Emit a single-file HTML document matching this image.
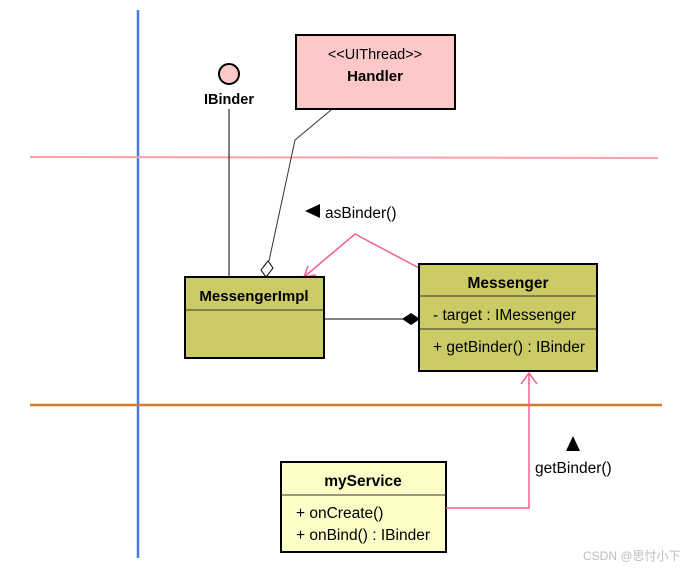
<!DOCTYPE html>
<html><head><style>
body{margin:0;background:#fff;}
svg text{font-family:"Liberation Sans","Noto Sans CJK SC",sans-serif;}
</style></head><body>
<svg width="687" height="570" xmlns="http://www.w3.org/2000/svg">
<line x1="138" y1="10" x2="138" y2="558" stroke="#4a78e8" stroke-width="2.5"/>
<line x1="30" y1="157" x2="658" y2="158" stroke="#f7a3a8" stroke-width="2"/>
<line x1="30" y1="405" x2="662" y2="405" stroke="#d97a2a" stroke-width="2.5"/>
<!-- IBinder -->
<circle cx="229" cy="74" r="10" fill="#fcc8c8" stroke="#000" stroke-width="2"/>
<text x="229" y="104" font-size="14.5" font-weight="bold" text-anchor="middle">IBinder</text>
<line x1="229" y1="109" x2="229" y2="277" stroke="#000"/>
<!-- Handler -->
<rect x="296" y="35" width="159" height="74" fill="#fcc8c8" stroke="#000" stroke-width="2"/>
<text x="375" y="59" font-size="14.5" text-anchor="middle">&lt;&lt;UIThread&gt;&gt;</text>
<text x="375" y="81" font-size="15" font-weight="bold" text-anchor="middle">Handler</text>
<polyline points="331,110 295,140 269,261" fill="none" stroke="#333"/>
<polygon points="268,261 273,268 266,277 261,270" fill="#fff" stroke="#000"/>
<!-- asBinder -->
<polygon points="305,211 320,204 320,218" fill="#000"/>
<text x="325" y="218" font-size="15.5">asBinder()</text>
<polyline points="419,268 355,234 304,277" fill="none" stroke="#f06090" stroke-width="1.5"/>
<polyline points="308,266 304,277 316,275" fill="none" stroke="#f06090" stroke-width="1.5"/>
<!-- MessengerImpl -->
<rect x="185" y="277" width="139" height="81" fill="#cbcb66" stroke="#000" stroke-width="2"/>
<line x1="185" y1="310" x2="324" y2="310" stroke="#333"/>
<text x="254" y="301" font-size="15" font-weight="bold" text-anchor="middle">MessengerImpl</text>
<line x1="324" y1="319" x2="403" y2="319" stroke="#000"/>
<polygon points="402,319 411,313 420,319 411,325" fill="#000"/>
<!-- Messenger -->
<rect x="419" y="264" width="178" height="107" fill="#cbcb66" stroke="#000" stroke-width="2"/>
<line x1="419" y1="296" x2="597" y2="296" stroke="#333"/>
<line x1="419" y1="329" x2="597" y2="329" stroke="#333"/>
<text x="508" y="288" font-size="15.5" font-weight="bold" text-anchor="middle">Messenger</text>
<text x="433" y="320" font-size="15.5">- target : IMessenger</text>
<text x="433" y="352" font-size="15.5">+ getBinder() : IBinder</text>
<!-- myService -->
<rect x="281" y="462" width="165" height="90" fill="#fdfdc8" stroke="#000" stroke-width="2"/>
<line x1="281" y1="495" x2="446" y2="495" stroke="#333"/>
<text x="363" y="486" font-size="15.5" font-weight="bold" text-anchor="middle">myService</text>
<text x="296" y="518" font-size="15.5">+ onCreate()</text>
<text x="296" y="540" font-size="15.5">+ onBind() : IBinder</text>
<polyline points="446,508 529,508 529,373" fill="none" stroke="#f06090" stroke-width="1.5"/>
<polyline points="521,384 529,373 537,384" fill="none" stroke="#f06090" stroke-width="1.5"/>
<polygon points="573,436 566,451 580,451" fill="#000"/>
<text x="535" y="473" font-size="15.5">getBinder()</text>
<text x="583" y="560" font-size="12" fill="#bbb">CSDN @思忖小下</text>
</svg>
</body></html>
